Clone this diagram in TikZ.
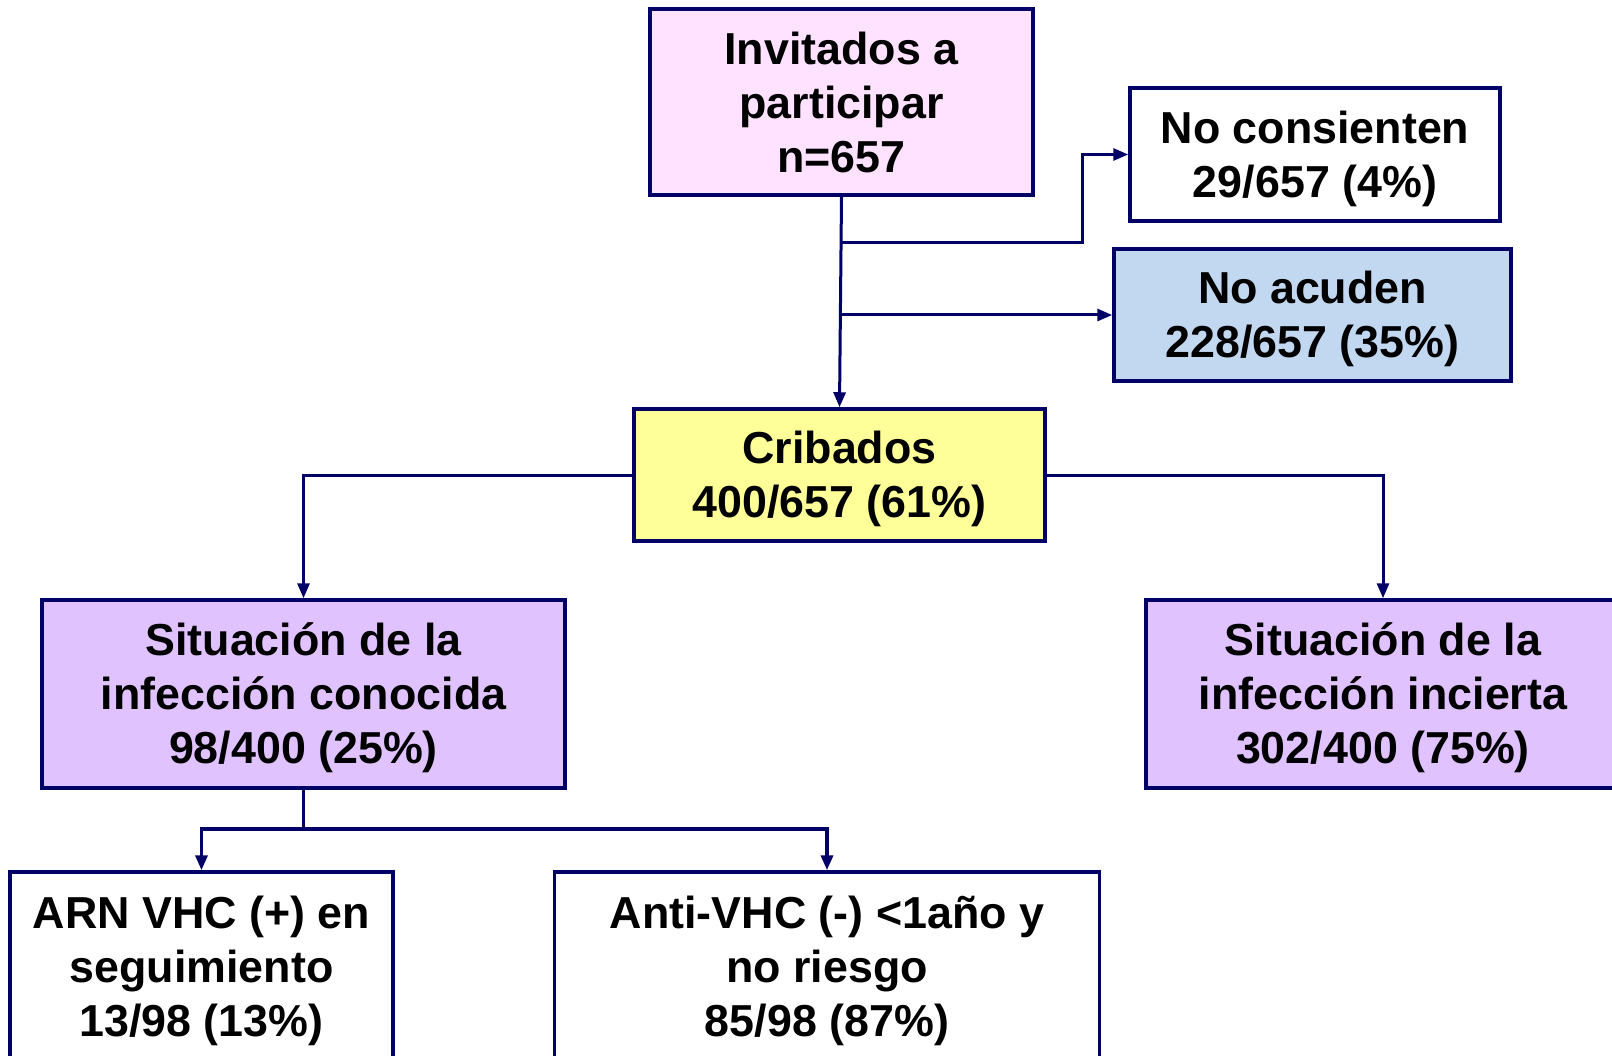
\documentclass[tikz,border=0pt]{standalone}
\usepackage{fontspec}
\setmainfont{Liberation Sans}
\usetikzlibrary{arrows.meta}
\definecolor{navyline}{RGB}{0,0,102}
\definecolor{pinkfill}{RGB}{255,226,255}
\definecolor{bluefill}{RGB}{194,216,240}
\definecolor{yellowfill}{RGB}{255,255,153}
\definecolor{lilacfill}{RGB}{224,194,255}
\newcommand{\topstrut}{\rule{0pt}{41pt}}
\begin{document}
\begin{tikzpicture}[x=1pt,y=-1pt,
  box/.style={draw=navyline,line width=3.5pt,align=center,inner sep=0pt,
    font=\fontsize{44.8}{54}\selectfont\bfseries,text=black},
  conn/.style={draw=navyline,line width=3pt},
  arr/.style={conn,-{Triangle[length=15pt,width=12pt]}}]
\useasboundingbox (0,0) rectangle (1612,1056);
\fill[white] (0,0) rectangle (1612,1056);
\node[box,fill=pinkfill,minimum width=383,minimum height=186] (inv) at (841.5,102) {Invitados a\\participar\\n=657};
\node[box,fill=white,minimum width=370,minimum height=133] (noc) at (1315,154.5) {\topstrut No consienten\\29/657 (4\%)};
\node[box,fill=bluefill,minimum width=397,minimum height=132] (noa) at (1312.5,315) {\topstrut No acuden\\228/657 (35\%)};
\node[box,fill=yellowfill,minimum width=411,minimum height=132] (cri) at (839.5,475) {\topstrut Cribados\\400/657 (61\%)};
\node[box,fill=lilacfill,minimum width=523,minimum height=188] (sl) at (303.5,694) {\topstrut Situación de la\\infección conocida\\98/400 (25\%)};
\node[box,fill=lilacfill,minimum width=474,minimum height=188] (sr) at (1383,694) {\topstrut Situación de la\\infección incierta\\302/400 (75\%)};
\node[box,fill=white,minimum width=383,minimum height=190] (arn) at (201.5,967) {\topstrut ARN VHC (+) en\\seguimiento\\13/98 (13\%)};
\node[box,fill=white,minimum width=545,minimum height=190] (anti) at (827,967) {\topstrut Anti-VHC (-) <1año y\\no riesgo\\85/98 (87\%)};
% connectors
\draw[arr] (inv.south) -- (cri.north);
\coordinate (b1) at (841,243);
\coordinate (j1) at (1082,243);
\draw[arr] (b1) -- (j1) |- (noc.west);
\coordinate (b2) at (841,315);
\draw[arr] (b2) -- (noa.west);
\draw[arr] (cri.west) -| (sl.north);
\draw[arr] (cri.east) -| (sr.north);
\coordinate (j3) at (303.5,829);
\draw[conn] (sl.south) -- (j3);
\draw[arr,line width=3.5pt] (j3) -| (arn.north);
\draw[arr,line width=3.5pt] (j3) -| (anti.north);
\end{tikzpicture}
\end{document}
